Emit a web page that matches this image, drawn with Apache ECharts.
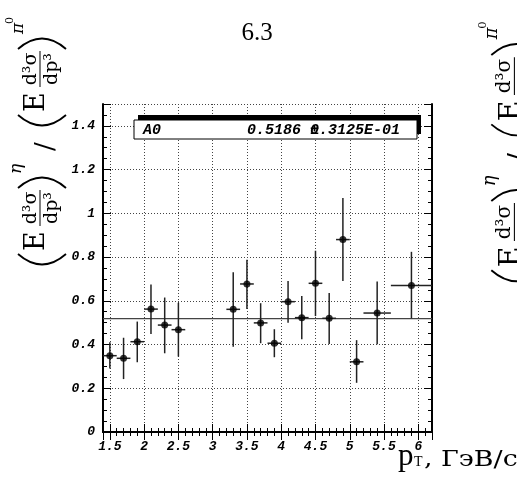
<!DOCTYPE html>
<html>
<head>
<meta charset="utf-8">
<script src="https://cdn.jsdelivr.net/npm/echarts@6/dist/echarts.min.js"></script>
<style>
  html, body { margin: 0; padding: 0; background: #fff; }
  #chart { width: 517px; height: 478px; }
</style>
</head>
<body>
<div id="chart"></div>
<script>
// eta / pi0 ratio vs pT
const pt      = [1.5, 1.7, 1.9, 2.1, 2.3, 2.5, 3.3, 3.5, 3.7, 3.9, 4.1, 4.3, 4.5, 4.7, 4.9, 5.1, 5.4, 5.9];
const ptErr   = [0.1, 0.1, 0.1, 0.1, 0.1, 0.1, 0.1, 0.1, 0.1, 0.1, 0.1, 0.1, 0.1, 0.1, 0.1, 0.1, 0.2, 0.3];
const ratio   = [0.349, 0.337, 0.413, 0.562, 0.489, 0.468, 0.561, 0.677, 0.499, 0.406, 0.596, 0.523, 0.680, 0.520, 0.880, 0.321, 0.544, 0.670];
const ratioLo = [0.290, 0.242, 0.319, 0.448, 0.360, 0.345, 0.390, 0.563, 0.406, 0.342, 0.500, 0.424, 0.530, 0.402, 0.690, 0.225, 0.401, 0.520];
const ratioHi = [0.410, 0.431, 0.505, 0.675, 0.615, 0.591, 0.730, 0.788, 0.589, 0.470, 0.691, 0.622, 0.829, 0.636, 1.070, 0.420, 0.688, 0.824];

const FIT_A0 = 0.5186;
const FIT_ERR = '0.3125E-01';
const X_MIN = 1.4, X_MAX = 6.2;
const Y_MIN = 0, Y_MAX = 1.5;

const tickFont = { fontFamily: 'Liberation Mono', fontStyle: 'italic', fontWeight: 'bold', fontSize: 13, color: '#000' };
const boxFont = 'italic bold 15px "Liberation Mono"';
const serif = '"DejaVu Serif"';

const myChart = echarts.init(document.getElementById('chart'));

// (E d3s/dp3)^eta / (E d3s/dp3)^pi0, drawn in a rotated frame
function paren(a, open) {
  const shape = open
    ? { x1: a + 14, y1: 6, x2: a + 14, y2: 54, cpx1: a - 7, cpy1: 30 }
    : { x1: a, y1: 6, x2: a, y2: 54, cpx1: a + 21, cpy1: 30 };
  return { type: 'bezierCurve', shape: shape, style: { stroke: '#000', lineWidth: 1.8, fill: null } };
}
function txt(u, v, s, font, align) {
  return { type: 'text', x: u, y: v, style: { text: s, font: font, fill: '#000', align: align || 'left', verticalAlign: 'middle' } };
}
function frac(c) {
  return [
    txt(c, 19, 'd³σ', '19px ' + serif, 'center'),
    { type: 'line', shape: { x1: c - 18, y1: 28, x2: c + 18, y2: 28 }, style: { stroke: '#000', lineWidth: 1 } },
    txt(c, 40, 'dp³', '19px ' + serif, 'center')
  ];
}
function yLabel(x0, y0, s) {
  return {
    type: 'group', x: x0, y: y0, rotation: Math.PI / 2, scaleX: s, scaleY: s,
    children: [
      paren(0, true),
      txt(17, 25, 'E', '27px ' + serif),
      ...frac(60),
      paren(80, false),
      txt(94, 5, 'η', 'italic 17px ' + serif),
      txt(117, 34, '/', '26px ' + serif),
      paren(139, true),
      txt(156, 25, 'E', '27px ' + serif),
      ...frac(199),
      paren(219, false),
      txt(234, 7, 'π', 'italic 17px ' + serif),
      txt(244, -2, '0', '11px ' + serif)
    ]
  };
}

const errData = pt.map((x, i) => [x, ratio[i], ratioLo[i], ratioHi[i], ptErr[i]]);
const ptsData = pt.map((x, i) => [x, ratio[i]]);

const axisCommon = {
  axisLine: { lineStyle: { color: '#000', width: 2 } },
  axisTick: { inside: true, length: 8, lineStyle: { color: '#000', width: 1 } },
  minorTick: { show: true, length: 4, lineStyle: { color: '#000', width: 1 } }
};

const option = {
  animation: false,
  grid: { left: 103, right: 85, top: 104, bottom: 46 },
  xAxis: [
    {
      type: 'value', min: X_MIN, max: X_MAX, splitNumber: 10, position: 'bottom',
      ...axisCommon,
      minorTick: { ...axisCommon.minorTick, splitNumber: 5 },
      axisLabel: { ...tickFont, margin: 8, showMinLabel: false, showMaxLabel: false },
      splitLine: { show: true, lineStyle: { color: '#444', type: [1, 2], width: 1 } }
    },
    {
      type: 'value', min: X_MIN, max: X_MAX, splitNumber: 10, position: 'top',
      ...axisCommon,
      minorTick: { ...axisCommon.minorTick, splitNumber: 5 },
      axisLabel: { show: false },
      splitLine: { show: false }
    }
  ],
  yAxis: [
    {
      type: 'value', min: Y_MIN, max: Y_MAX, interval: 0.2, position: 'left',
      ...axisCommon,
      minorTick: { ...axisCommon.minorTick, splitNumber: 4 },
      axisLabel: { ...tickFont, margin: 8, showMaxLabel: false },
      splitLine: { show: true, lineStyle: { color: '#444', type: [1, 2], width: 1 } }
    },
    {
      type: 'value', min: Y_MIN, max: Y_MAX, interval: 0.2, position: 'right',
      ...axisCommon,
      minorTick: { ...axisCommon.minorTick, splitNumber: 4 },
      axisLabel: { show: false },
      splitLine: { show: false }
    }
  ],
  series: [
    {
      name: 'fit',
      type: 'line',
      data: [[X_MIN, FIT_A0], [X_MAX, FIT_A0]],
      symbol: 'none',
      lineStyle: { color: '#444', width: 1.3 },
      z: 2
    },
    {
      name: 'errors',
      type: 'custom',
      clip: true,
      data: errData,
      renderItem: function (params, api) {
        const x = api.value(0), y = api.value(1), dx = api.value(4);
        const lo = api.coord([x, api.value(2)]);
        const hi = api.coord([x, api.value(3)]);
        const l = api.coord([Math.max(x - dx, X_MIN), y]);
        const r = api.coord([Math.min(x + dx, X_MAX), y]);
        return {
          type: 'group',
          children: [
            { type: 'line', shape: { x1: lo[0], y1: lo[1], x2: hi[0], y2: hi[1] }, style: { stroke: '#222', lineWidth: 1.5 } },
            { type: 'line', shape: { x1: l[0], y1: l[1], x2: r[0], y2: r[1] }, style: { stroke: '#222', lineWidth: 1.5 } }
          ]
        };
      },
      z: 3
    },
    {
      name: 'ratio',
      type: 'scatter',
      data: ptsData,
      symbol: 'circle',
      symbolSize: 7,
      itemStyle: { color: '#000' },
      z: 4
    }
  ],
  graphic: [
    txt(257, 33, '6.3', '25px "Liberation Serif"', 'center'),
    // fit box
    { type: 'rect', shape: { x: 138, y: 115, width: 283, height: 19 }, style: { fill: '#000' }, z: 10 },
    { type: 'rect', shape: { x: 134, y: 120, width: 283, height: 19 }, style: { fill: '#fff', stroke: '#000', lineWidth: 1 }, z: 11 },
    { type: 'text', x: 143, y: 130, z: 12, style: { text: 'A0', font: boxFont, fill: '#000', verticalAlign: 'middle' } },
    { type: 'text', x: 247, y: 130, z: 12, style: { text: FIT_A0.toFixed(4) + ' ' + FIT_ERR, font: boxFont, fill: '#000', verticalAlign: 'middle' } },
    { type: 'text', x: 310, y: 130, z: 13, style: { text: '±', font: boxFont, fill: '#000', verticalAlign: 'middle' } },
    // axis titles
    yLabel(12, 268, 1),
    yLabel(485, 285, 1.05),
    { type: 'text', x: 398, y: 457, style: { text: 'p', font: '31px "Liberation Serif"', fill: '#000', verticalAlign: 'middle' } },
    { type: 'text', x: 414, y: 462, style: { text: 'T', font: '14px "Liberation Serif"', fill: '#000', verticalAlign: 'middle' } },
    { type: 'text', x: 424, y: 460, scaleX: 1.22, style: { text: ', ГэВ/c', font: '22px ' + serif, fill: '#000', verticalAlign: 'middle' } }
  ]
};

myChart.setOption(option);
</script>
</body>
</html>
